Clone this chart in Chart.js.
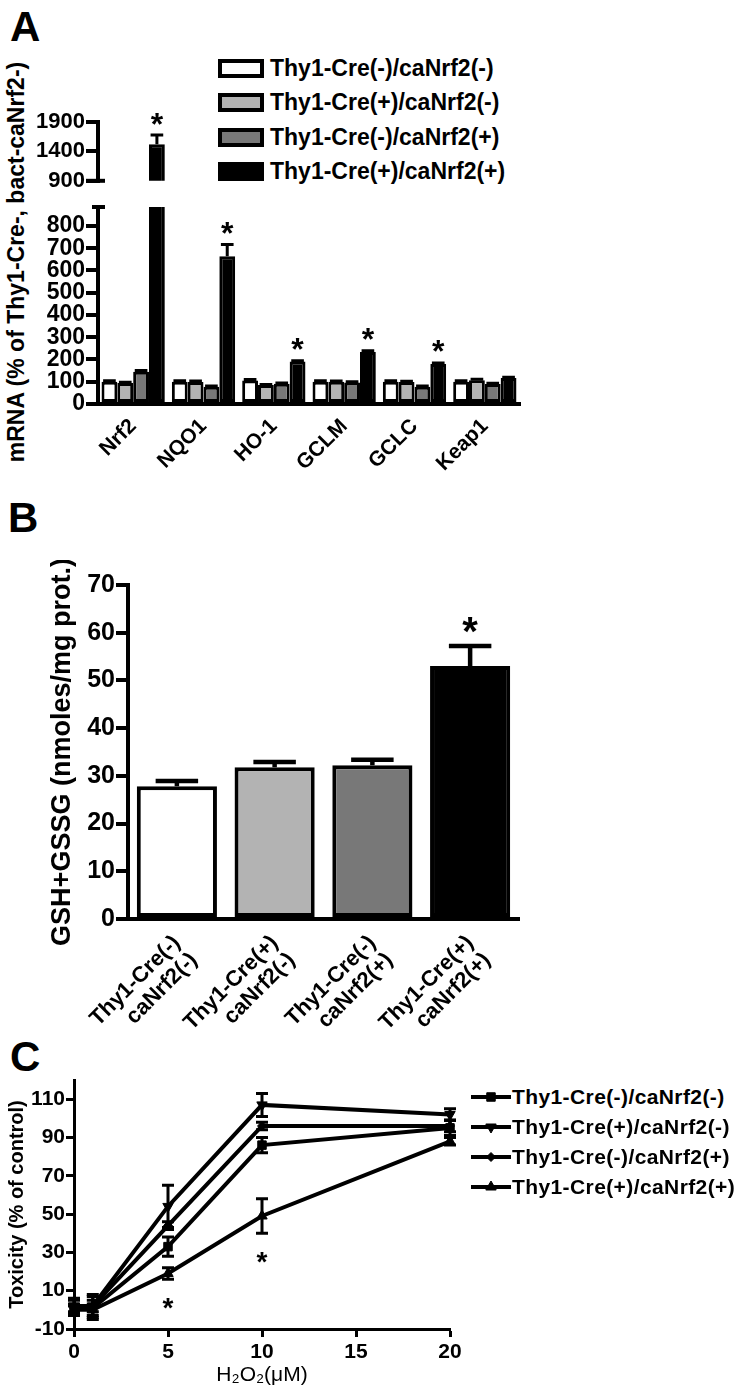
<!DOCTYPE html>
<html>
<head>
<meta charset="utf-8">
<script src="https://cdn.jsdelivr.net/npm/chart.js@4.4.0/dist/chart.umd.min.js"></script>
<style>
  body { margin: 0; background: #fff; }
  #page { position: relative; width: 740px; height: 1397px; overflow: hidden;
          font-family: 'Liberation Sans', Arial, sans-serif; color: #000; }
  canvas { position: absolute; left: 0; }
  .letter { position: absolute; font-weight: bold; font-size: 42px; line-height: 1; }
  #titleA { position: absolute; left: 16px; top: 262px; font-weight: bold; font-size: 23px;
            white-space: nowrap; transform: translate(-50%, -50%) rotate(-90deg); }
  .leg { position: absolute; left: 218px; height: 24px; display: flex; align-items: center;
         font-weight: bold; font-size: 23px; white-space: nowrap; }
  .leg .box { width: 46px; height: 19px; box-sizing: border-box; border: 4px solid #000; margin-right: 6px; }
  .legC { position: absolute; left: 471px; height: 24px; display: flex; align-items: center;
          font-weight: bold; font-size: 21px; letter-spacing: 0.4px; white-space: nowrap; }
  .legC canvas { position: static; margin-right: 1px; }
</style>
</head>
<body>
<div id="page">
  <div class="letter" style="left:10px; top:6px;">A</div>
  <div class="letter" style="left:8px; top:497px;">B</div>
  <div class="letter" style="left:10px; top:1036px;">C</div>
  <div id="titleA">mRNA (% of Thy1-Cre-, bact-caNrf2-)</div>
  <div id="legendA"></div>
  <div id="legendC"></div>
  <canvas id="mrnaHigh" width="540" height="95" style="top:100px;"></canvas>
  <canvas id="mrnaLow" width="540" height="285" style="top:190px;"></canvas>
  <canvas id="gsh" width="560" height="485" style="top:560px;"></canvas>
  <canvas id="tox" width="740" height="332" style="top:1065px;"></canvas>
</div>
<script>
// genotype groups shared by all three panels
const groups = ['Thy1-Cre(-)/caNrf2(-)', 'Thy1-Cre(+)/caNrf2(-)', 'Thy1-Cre(-)/caNrf2(+)', 'Thy1-Cre(+)/caNrf2(+)'];
const groupColors = ['#ffffff', '#b3b3b3', '#787878', '#000000'];

// Panel A - mRNA levels
const genes = ['Nrf2', 'NQO1', 'HO-1', 'GCLM', 'GCLC', 'Keap1'];
const mrnaWT = [100, 100, 106, 100, 100, 100];
const mrnaCre = [94, 99, 85, 100, 99, 107];
const mrnaCa = [145, 78, 91, 97, 78, 90];
const mrnaBoth = [1520, 664, 191, 234, 180, 117];
const mrnaWTErr = [4, 4, 4, 4, 4, 4];
const mrnaCreErr = [4, 4, 3, 3, 3, 4];
const mrnaCaErr = [5, 3, 3, 3, 3, 3];
const mrnaBothErr = [158, 52, 3, 5, 4, 3];
const mrnaStars = [true, true, true, true, true, false];
const yTicksLow = [0, 100, 200, 300, 400, 500, 600, 700, 800];
const yTicksHigh = [900, 1400, 1900];

// Panel B - total glutathione
const gshLabels = [['Thy1-Cre(-)', 'caNrf2(-)'], ['Thy1-Cre(+)', 'caNrf2(-)'], ['Thy1-Cre(-)', 'caNrf2(+)'], ['Thy1-Cre(+)', 'caNrf2(+)']];
const gsh = [27.8, 31.8, 32.2, 53.0];
const gshErr = [1.1, 1.1, 1.2, 4.2];
const gshStars = [false, false, false, true];
const yTicksB = [0, 10, 20, 30, 40, 50, 60, 70];

// Panel C - H2O2 toxicity
const doses = [0, 1, 5, 10, 20];
const toxWT = [1, 1, 33, 86, 95];
const toxCre = [2, 2, 54, 107, 102];
const toxCa = [1, 2, 44, 96, 96];
const toxBoth = [0, 0, 19, 49, 88];
const toxWTErr = [4, 6, 5, 4, 4];
const toxCreErr = [4, 6, 11, 6, 3];
const toxCaErr = [2, 3, 2, 2, 3];
const toxBothErr = [2, 3, 3, 9, 2];
const toxStars = [false, false, true, true, false];
const xTicksC = [0, 5, 10, 15, 20];
const yTicksC = [-10, 10, 30, 50, 70, 90, 110];

const FONT = "'Liberation Sans', Arial, sans-serif";
Chart.defaults.font.family = FONT;
Chart.defaults.color = '#000';

// error bars (+ optional significance stars) drawn from the data through the y scale
const errorBars = {
  id: 'errorBars',
  afterDatasetsDraw(chart, args, opts) {
    const {ctx, chartArea} = chart;
    const yScale = chart.scales.y;
    const starsToDraw = [];
    ctx.save();
    ctx.beginPath();
    ctx.rect(chartArea.left - 30, chartArea.top - 2, chartArea.width + 60, chartArea.height + 4);
    ctx.clip();
    ctx.strokeStyle = '#000';
    ctx.lineWidth = opts.width;
    chart.data.datasets.forEach((ds, i) => {
      const errs = opts.errors[i];
      if (!errs) return;
      chart.getDatasetMeta(i).data.forEach((el, j) => {
        const raw = ds.data[j];
        const v = typeof raw === 'object' ? raw.y : raw;
        const hi = yScale.getPixelForValue(v + errs[j]);
        const lo = yScale.getPixelForValue(opts.both ? v - errs[j] : v);
        const half = opts.cap != null ? opts.cap : (el.width || 0) * opts.capRatio / 2;
        ctx.beginPath();
        ctx.moveTo(el.x, lo);
        ctx.lineTo(el.x, hi);
        ctx.moveTo(el.x - half, hi);
        ctx.lineTo(el.x + half, hi);
        if (opts.both) {
          ctx.moveTo(el.x - half, lo);
          ctx.lineTo(el.x + half, lo);
        }
        ctx.stroke();
        const stars = opts.stars && opts.stars[i];
        if (stars && stars[j]) {
          const y = opts.starBelow ? lo + opts.starGap : hi - opts.starGap;
          const edge = opts.starBelow ? lo : hi;
          if (edge >= chartArea.top - 1 && edge <= chartArea.bottom + 1) starsToDraw.push([el.x, y]);
        }
      });
    });
    ctx.restore();
    ctx.save();
    ctx.fillStyle = '#000';
    ctx.font = 'bold ' + opts.starSize + 'px ' + FONT;
    ctx.textAlign = 'center';
    ctx.textBaseline = 'alphabetic';
    starsToDraw.forEach(([x, y]) => ctx.fillText('*', x, y + opts.starSize * 0.6));
    ctx.restore();
  }
};

// short cross line marking the break of the y axis
const axisBreak = {
  id: 'axisBreak',
  afterDraw(chart, args, opts) {
    if (!opts.edge) return;
    const {ctx, chartArea} = chart;
    const y = opts.edge === 'top' ? chartArea.top : chartArea.bottom;
    ctx.save();
    ctx.strokeStyle = '#000';
    ctx.lineWidth = 4;
    ctx.beginPath();
    ctx.moveTo(chartArea.left - opts.left, y);
    ctx.lineTo(chartArea.left + opts.right, y);
    ctx.stroke();
    ctx.restore();
  }
};

// legend for panel A
const legendA = document.getElementById('legendA');
groups.forEach((g, i) => {
  const row = document.createElement('div');
  row.className = 'leg';
  row.style.top = [56, 90, 125, 159][i] + 'px';
  const box = document.createElement('span');
  box.className = 'box';
  box.style.background = groupColors[i];
  row.appendChild(box);
  row.appendChild(document.createTextNode(g));
  legendA.appendChild(row);
});

const mrnaSeries = [mrnaWT, mrnaCre, mrnaCa, mrnaBoth];
const mrnaErrs = [mrnaWTErr, mrnaCreErr, mrnaCaErr, mrnaBothErr];

function mrnaDatasets() {
  return groups.map((g, i) => ({
    label: g,
    data: mrnaSeries[i],
    backgroundColor: groupColors[i],
    borderColor: '#000',
    borderWidth: 3,
    borderSkipped: false,
    categoryPercentage: 0.9,
    barPercentage: 1,
    clip: 0
  }));
}

const plainNumber = v => String(v);

function yAxis(ticksList, min, max, fontSize, width, extra) {
  return Object.assign({
    min: min,
    max: max,
    border: {color: '#000', width: 4},
    grid: {drawOnChartArea: false, color: '#000', lineWidth: 4, tickLength: 12, tickWidth: 4, tickColor: '#000'},
    ticks: {color: '#000', font: {size: fontSize, weight: 'bold'}, padding: 1, autoSkip: false, callback: plainNumber},
    afterBuildTicks: s => { s.ticks = ticksList.map(v => ({value: v})); },
    afterFit: s => { s.width = width; }
  }, extra || {});
}

// Panel A, upper segment of the broken axis
new Chart(document.getElementById('mrnaHigh'), {
  type: 'bar',
  data: {labels: genes, datasets: mrnaDatasets()},
  plugins: [errorBars, axisBreak],
  options: {
    responsive: false,
    animation: false,
    layout: {padding: {top: 22, right: 20, bottom: 10, left: 0}},
    plugins: {
      legend: {display: false},
      tooltip: {enabled: false},
      errorBars: {errors: mrnaErrs, width: 3, capRatio: 0.8, stars: [null, null, null, mrnaStars], starGap: 19, starSize: 32},
      axisBreak: {edge: 'bottom', left: 12, right: 7}
    },
    scales: {
      x: {display: false},
      y: yAxis(yTicksHigh, 900, 1900, 22, 98)
    }
  }
});

// Panel A, lower segment
new Chart(document.getElementById('mrnaLow'), {
  type: 'bar',
  data: {labels: genes, datasets: mrnaDatasets()},
  plugins: [errorBars, axisBreak],
  options: {
    responsive: false,
    animation: false,
    layout: {padding: {top: 17, right: 20, bottom: 0, left: 0}},
    plugins: {
      legend: {display: false},
      tooltip: {enabled: false},
      errorBars: {errors: mrnaErrs, width: 3, capRatio: 0.8, stars: [null, null, null, mrnaStars], starGap: 20, starSize: 32},
      axisBreak: {edge: 'top', left: 6, right: 7}
    },
    scales: {
      x: {
        grid: {display: false},
        border: {color: '#000', width: 4},
        ticks: {color: '#000', font: {size: 21, weight: 'bold'}, minRotation: 45, maxRotation: 45, autoSkip: false, padding: 2},
        afterFit: s => { s.height = 71; }
      },
      y: yAxis(yTicksLow, 0, 885, 23, 98)
    }
  }
});

// Panel B
new Chart(document.getElementById('gsh'), {
  type: 'bar',
  data: {
    labels: gshLabels,
    datasets: [{
      data: gsh,
      backgroundColor: groupColors,
      borderColor: '#000',
      borderWidth: 4,
      borderSkipped: false,
      categoryPercentage: 0.82,
      barPercentage: 1
    }]
  },
  plugins: [errorBars],
  options: {
    responsive: false,
    animation: false,
    layout: {padding: {top: 25, right: 41, bottom: 0, left: 0}},
    plugins: {
      legend: {display: false},
      tooltip: {enabled: false},
      errorBars: {errors: [gshErr], width: 4.5, capRatio: 0.53, stars: [gshStars], starGap: 25, starSize: 40}
    },
    scales: {
      x: {
        grid: {display: false},
        border: {color: '#000', width: 4},
        ticks: {color: '#000', font: {size: 22, weight: 'bold', lineHeight: 1.1}, minRotation: 45, maxRotation: 45, autoSkip: false, padding: 4},
        afterFit: s => { s.height = 126; }
      },
      y: yAxis(yTicksB, 0, 70, 25, 128, {
        title: {display: true, text: 'GSH+GSSG (nmoles/mg prot.)', color: '#000', font: {size: 27, weight: 'bold'}, padding: {top: 46, bottom: 0}}
      })
    }
  }
});

// Panel C
const toxSeries = [toxWT, toxCre, toxCa, toxBoth];
const toxErrs = [toxWTErr, toxCreErr, toxCaErr, toxBothErr];
const markerStyle = ['rect', 'triangle', 'rectRot', 'triangle'];
const markerRotation = [0, 180, 0, 0];
const markerRadius = [6, 6, 4.5, 6];

function legendIcon(i) {
  const c = document.createElement('canvas');
  c.width = 40;
  c.height = 16;
  const g = c.getContext('2d');
  g.strokeStyle = '#000';
  g.fillStyle = '#000';
  g.lineWidth = 4;
  g.beginPath();
  g.moveTo(0, 8);
  g.lineTo(40, 8);
  g.stroke();
  g.lineWidth = 1;
  Chart.helpers.drawPoint(g, {pointStyle: markerStyle[i], rotation: markerRotation[i], radius: markerRadius[i], borderWidth: 1}, 20, 8);
  return c;
}

// legend for panel C: line + marker icon beside each label
const legendC = document.getElementById('legendC');
groups.forEach((g, i) => {
  const row = document.createElement('div');
  row.className = 'legC';
  row.style.top = (1085 + i * 30) + 'px';
  row.appendChild(legendIcon(i));
  row.appendChild(document.createTextNode(g));
  legendC.appendChild(row);
});

new Chart(document.getElementById('tox'), {
  type: 'line',
  data: {
    datasets: groups.map((g, i) => ({
      label: g,
      data: doses.map((d, j) => ({x: d, y: toxSeries[i][j]})),
      borderColor: '#000',
      backgroundColor: '#000',
      borderWidth: 4,
      pointStyle: markerStyle[i],
      pointRotation: markerRotation[i],
      pointRadius: markerRadius[i],
      pointBorderWidth: 1,
      tension: 0,
      clip: false
    }))
  },
  plugins: [errorBars],
  options: {
    responsive: false,
    animation: false,
    layout: {padding: {top: 15, right: 290, bottom: 0, left: 0}},
    plugins: {
      legend: {display: false},
      tooltip: {enabled: false},
      errorBars: {errors: toxErrs, both: true, width: 3, cap: 6, stars: [null, null, null, toxStars], starBelow: true, starGap: 21, starSize: 28}
    },
    scales: {
      x: {
        type: 'linear',
        min: 0,
        max: 20,
        border: {color: '#000', width: 3},
        grid: {drawOnChartArea: false, color: '#000', tickLength: 8, tickWidth: 3, tickColor: '#000'},
        ticks: {color: '#000', font: {size: 21, weight: 'bold'}, padding: 3, callback: plainNumber},
        title: {display: true, text: 'H\u2082O\u2082(\u03bcM)', color: '#000', font: {size: 21}, padding: {top: 0, bottom: 9}},
        afterBuildTicks: s => { s.ticks = xTicksC.map(v => ({value: v})); },
        afterFit: s => { s.height = 68; }
      },
      y: {
        min: -10,
        max: 120,
        border: {color: '#000', width: 3},
        grid: {drawOnChartArea: false, color: '#000', tickLength: 8, tickWidth: 3, tickColor: '#000'},
        ticks: {color: '#000', font: {size: 21, weight: 'bold'}, padding: 1, autoSkip: false, callback: plainNumber},
        title: {display: true, text: 'Toxicity (% of control)', color: '#000', font: {size: 20, weight: 'bold'}, padding: {top: 5, bottom: 0}},
        afterBuildTicks: s => { s.ticks = yTicksC.map(v => ({value: v})); },
        afterFit: s => { s.width = 74; }
      }
    }
  }
});
</script>
</body>
</html>
